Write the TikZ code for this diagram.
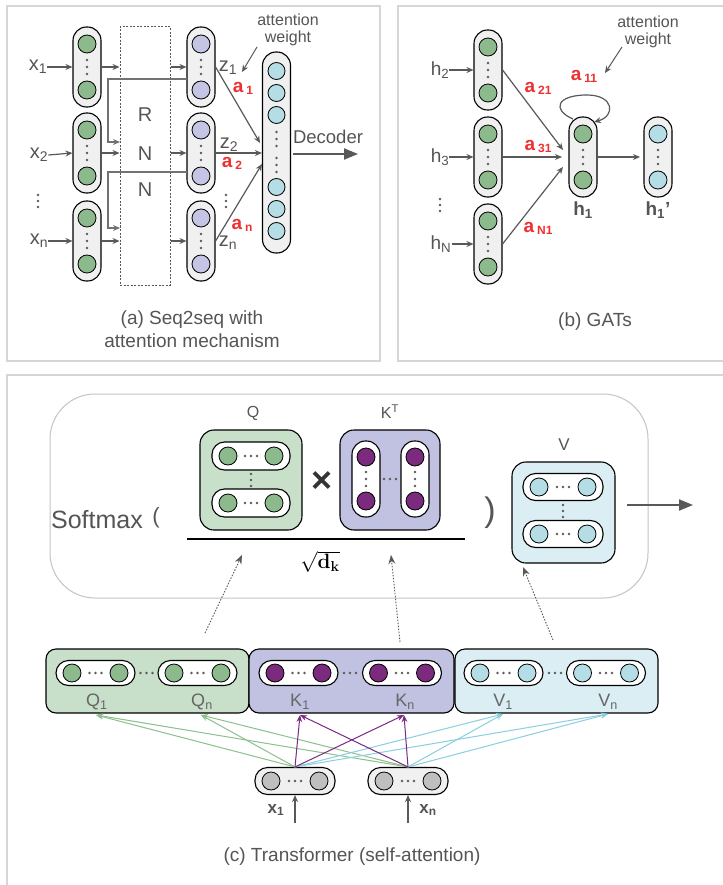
\documentclass[tikz,border=0pt]{standalone}
\usepackage[no-math]{fontspec}
\setmainfont{Liberation Sans}
\usetikzlibrary{arrows.meta}
\definecolor{bordgray}{HTML}{D6D6D6}
\definecolor{softgray}{HTML}{C4C4C4}
\definecolor{txtgray}{HTML}{555555}
\definecolor{lngray}{HTML}{595959}
\definecolor{dotgray}{HTML}{5A5A5A}
\definecolor{cgreen}{HTML}{8CBA8C}
\definecolor{clav}{HTML}{C4C4E4}
\definecolor{cblue}{HTML}{B4DDE6}
\definecolor{cpurple}{HTML}{7B2A7E}
\definecolor{cgray}{HTML}{BFBFBF}
\definecolor{pillgray}{HTML}{F0F0F0}
\definecolor{qfill}{HTML}{C8DFC9}
\definecolor{kfill}{HTML}{C1C1E1}
\definecolor{vfill}{HTML}{DBEEF4}
\definecolor{qline}{HTML}{8CC08C}
\definecolor{kline}{HTML}{7B2A83}
\definecolor{vline}{HTML}{8ACFDF}
\definecolor{ared}{HTML}{EE3030}
\newcommand\myfs[1]{\fontsize{#1}{#1}\selectfont}
\newcommand\sqdk{\ensuremath{\sqrt{\mathbf{d}_{\mathbf{k}}}}}
\newcommand\vcol[6]{% name,x,y,circle fill,pill fill,height
  \node[vpill, fill=#5, minimum height=#6] (#1) at (#2,#3) {};
  \node[cnode, fill=#4] (#1-t) at (#2,#3-#6/2+17) {};
  \node[cnode, fill=#4] (#1-b) at (#2,#3+#6/2-17) {};
  \foreach \dd in {-7,0,7} \fill[dotc] (#2,#3+\dd) circle (1.3);
}
\newcommand\hcol[7]{% name,x,y,circle fill,pill fill,width,height
  \node[hpill, fill=#5, minimum width=#6, minimum height=#7] (#1) at (#2,#3) {};
  \node[cnode, fill=#4] (#1-l) at (#2-#6/2+16,#3) {};
  \node[cnode, fill=#4] (#1-r) at (#2+#6/2-16,#3) {};
  \foreach \dd in {-6,0,6} \fill[dotc] (#2+\dd,#3) circle (1.3);
}
\newcommand\redlab[1]{\textcolor{ared}{\bfseries\myfs{19}a\kern3pt\raisebox{-2pt}{\myfs{12}#1}}}
\begin{document}
\begin{tikzpicture}[x=1pt,y=-1pt,
  panel/.style={draw=bordgray, line width=1.5pt},
  vpill/.style={draw=black, line width=1.1pt, rounded corners=13.5pt, minimum width=28pt, inner sep=0pt},
  hpill/.style={draw=black, line width=1.1pt, rounded corners=12.5pt, inner sep=0pt},
  cnode/.style={circle, draw=black, line width=0.8pt, minimum size=18pt, inner sep=0pt},
  dotc/.style={fill=dotgray},
  lbl/.style={text=txtgray, inner sep=0pt},
  arr/.style={draw=lngray, line width=1.2pt, -{Stealth[length=7pt,width=6pt]}},
  fbarr/.style={draw=lngray!85, line width=1.2pt, -{Stealth[length=7pt,width=6pt]}},
  bigarr/.style={draw=lngray, line width=2pt, -{Triangle[length=14pt,width=11pt]}},
  dotarr/.style={draw=lngray, line width=0.9pt, dash pattern=on 1.5pt off 1.5pt, -{Stealth[length=9pt,width=7pt]}},
  mbox/.style={draw=black, line width=1.1pt, rounded corners=14pt, inner sep=0pt},
  rowbox/.style={draw=black, line width=1.1pt, rounded corners=10pt, inner sep=0pt, minimum height=64pt},
  cl/.style={line width=1pt, -{Stealth[length=7pt,width=5.5pt]}},
  captxt/.style={text=txtgray, inner sep=0pt, align=center, font=\myfs{19}}]
\useasboundingbox (0,0) rectangle (722,885);
\fill[white] (0,0) rectangle (722,885);
% panel borders
\draw[panel] (7,6) rectangle (380,361);
\draw[panel] (398,6) rectangle (740,361);
\draw[panel] (7,375) rectangle (740,900);

% ===================== panel (a) =====================
\node[draw=lngray, line width=1pt, dash pattern=on 2pt off 1.5pt, minimum width=50pt, minimum height=258pt, inner sep=0pt] (rnn) at (145,156) {};
\node[lbl, font=\myfs{20}] at (145,115) {R};
\node[lbl, font=\myfs{20}] at (145,154) {N};
\node[lbl, font=\myfs{20}] at (145,190) {N};
\vcol{xa1}{87}{67}{cgreen}{pillgray}{80}
\vcol{xa2}{87}{153}{cgreen}{pillgray}{80}
\vcol{xa3}{87}{241}{cgreen}{pillgray}{80}
\vcol{za1}{201}{67}{clav}{pillgray}{80}
\vcol{za2}{201}{153}{clav}{pillgray}{80}
\vcol{za3}{201}{241}{clav}{pillgray}{80}
\node[lbl, font=\myfs{20}] (lx1) at (38,67) {x\textsubscript{1}};
\node[lbl, font=\myfs{20}] (lx2) at (39,155) {x\textsubscript{2}};
\node[lbl, font=\myfs{20}] (lxn) at (39,241) {x\textsubscript{n}};
\foreach \dd in {195,201,207} \fill[dotc] (38,\dd) circle (1.3);
\draw[arr] (lx1.east) -- (xa1.west);
\draw[arr] (lx2.east) -- (xa2.west);
\draw[arr] (lxn.east) -- (xa3.west);
\draw[arr] (xa1.east) -- (xa1.east -| rnn.west);
\draw[arr] (xa2.east) -- (xa2.east -| rnn.west);
\draw[arr] (xa3.east) -- (xa3.east -| rnn.west);
\draw[arr] (za1.west -| rnn.east) -- (za1.west);
\draw[arr] (za2.west -| rnn.east) -- (za2.west);
\draw[arr] (za3.west -| rnn.east) -- (za3.west);
% recurrent feedback
\coordinate (fb1s) at (187,79);
\coordinate (fb1e) at (120,142);
\coordinate (fb2s) at (187,172);
\coordinate (fb2e) at (120,228);
\draw[fbarr] (fb1s) -- (108,79) -- (108,142) -- (fb1e);
\draw[fbarr] (fb2s) -- (108,172) -- (108,228) -- (fb2e);
% decoder
\node[vpill, fill=pillgray, minimum height=201pt] (dec) at (276.5,152.5) {};
\foreach \cy in {71,93,115,187,209,231} \node[cnode, fill=cblue, minimum size=17pt] at (276.5,\cy) {};
\foreach \dd in {132,139,146,158,165,172} \fill[dotc] (276.5,\dd) circle (1.3);
\node[lbl, font=\myfs{20}] (lz1) at (228,68) {z\textsubscript{1}};
\node[lbl, font=\myfs{20}] (lz2) at (229,145) {z\textsubscript{2}};
\node[lbl, font=\myfs{20}] (lzn) at (228,243) {z\textsubscript{n}};
\foreach \dd in {195,201,207} \fill[dotc] (226,\dd) circle (1.3);
\coordinate (d1) at (260,143);
\coordinate (d3) at (262,164);
\draw[arr] (za1.east) -- (d1);
\draw[arr] (za2.east) -- (za2.east -| dec.west);
\draw[arr] (za3.east) -- (d3);
\node[inner sep=0pt] at (243,88) {\redlab{1}};
\node[inner sep=0pt] at (232,163) {\redlab{2}};
\node[inner sep=0pt] at (242,225) {\redlab{n}};
\node[lbl, font=\myfs{18.5}] (decl) at (328,137) {Decoder};
\coordinate (dca) at (293,154);
\coordinate (dcb) at (358,154);
\draw[bigarr] (dca) -- (dcb);
\node[lbl, font=\myfs{16}, align=center] (attA) at (288,30) {attention\\[1pt]weight};
\coordinate (awa) at (242,72);
\draw[arr, line width=1pt] (257,47) -- (awa);
\node[captxt] at (192,329) {(a) Seq2seq with\\[4pt]attention mechanism};

% ===================== panel (b) =====================
\vcol{hb2}{488}{70}{cgreen}{pillgray}{80}
\vcol{hb3}{488}{157}{cgreen}{pillgray}{80}
\vcol{hbN}{488}{244}{cgreen}{pillgray}{80}
\vcol{hb1}{583}{157}{cgreen}{pillgray}{80}
\vcol{hbo}{658}{157}{cblue}{pillgray}{80}
\node[lbl, font=\myfs{19}] (lh2) at (440,70) {h\textsubscript{2}};
\node[lbl, font=\myfs{19}] (lh3) at (440,157) {h\textsubscript{3}};
\node[lbl, font=\myfs{19}] (lhN) at (441,244) {h\textsubscript{N}};
\foreach \dd in {199,205,211} \fill[dotc] (440,\dd) circle (1.3);
\draw[arr] (lh2.east) -- (hb2.west);
\draw[arr] (lh3.east) -- (hb3.west);
\draw[arr] (lhN.east) -- (hbN.west);
\coordinate (g1) at (563,150);
\coordinate (g2) at (562,157);
\coordinate (g3) at (563,167);
\draw[arr] (hb2.east) -- (g1);
\draw[arr] (hb3.east) -- (g2);
\draw[arr] (hbN.east) -- (g3);
\coordinate (go) at (640,157);
\draw[arr] (hb1.east) -- (go);
\draw[arr] (573,119) .. controls (552,110) and (556,95) .. (587,95) .. controls (614,95) and (616,116) .. (594,122);
\node[lbl, font=\myfs{19}\bfseries] at (583,210) {h\textsubscript{1}};
\node[lbl, font=\myfs{19}\bfseries] at (658,210) {h\textsubscript{1}'};
\node[inner sep=0pt] at (538,88) {\redlab{21}};
\node[inner sep=0pt] at (538,146) {\redlab{31}};
\node[inner sep=0pt] at (538,228) {\redlab{N1}};
\node[inner sep=0pt] at (584,76) {\redlab{11}};
\node[lbl, font=\myfs{16}, align=center] (attB) at (648,32) {attention\\[1pt]weight};
\coordinate (awb) at (605,73);
\draw[arr, line width=1pt] (622,47) -- (awb);
\node[captxt] at (595,322) {(b) GATs};

% ===================== panel (c) =====================
\node[draw=softgray, line width=1pt, rounded corners=45pt, minimum width=598pt, minimum height=204pt, inner sep=0pt] (big) at (349,496) {};
\node[lbl, font=\myfs{25}] at (97,520) {Softmax};
\node[lbl, font=\myfs{22}] at (156,518) {(};
\node[lbl, font=\myfs{34}] at (490,513) {)};
\node[lbl, font=\myfs{16}] at (253,413) {Q};
\node[lbl, font=\myfs{16}] at (390,412) {K\textsuperscript{T}};
\node[lbl, font=\myfs{17}] at (564,445) {V};
% Q
\node[mbox, fill=qfill, minimum width=102pt, minimum height=100pt] (qb) at (251,480) {};
\hcol{qp1}{251}{456}{cgreen}{white}{78}{28}
\hcol{qp2}{251}{503}{cgreen}{white}{78}{28}
\foreach \dd in {474,480,486} \fill[dotc] (251,\dd) circle (1.3);
\node[lbl, text=black!80, font=\myfs{36}\bfseries] at (322,482) {×};
% K^T
\node[mbox, fill=kfill, minimum width=100pt, minimum height=100pt] (kb) at (390,480) {};
\node[vpill, fill=white, minimum height=76pt] (kp1) at (366,479) {};
\node[cnode, fill=cpurple] at (366,457) {};
\node[cnode, fill=cpurple] at (366,501) {};
\foreach \dd in {472,479,486} \fill[dotc] (366,\dd) circle (1.3);
\node[vpill, fill=white, minimum height=76pt] (kp2) at (415,479) {};
\node[cnode, fill=cpurple] at (415,457) {};
\node[cnode, fill=cpurple] at (415,501) {};
\foreach \dd in {472,479,486} \fill[dotc] (415,\dd) circle (1.3);
\foreach \dd in {384,390,396} \fill[dotc] (\dd,479) circle (1.3);
% fraction
\coordinate (fr1) at (187,539);
\coordinate (fr2) at (465,539);
\draw[black, line width=1.1pt] (fr1) -- (fr2);
\node[inner sep=0pt, font=\myfs{22}] (sq) at (320,562) {\sqdk};
% V
\node[mbox, fill=vfill, minimum width=103pt, minimum height=101pt] (vb) at (563.5,512.5) {};
\hcol{vp1}{563}{487}{cblue}{white}{80}{27}
\hcol{vp2}{563}{534}{cblue}{white}{80}{27}
\foreach \dd in {505,511,517} \fill[dotc] (563,\dd) circle (1.3);
\coordinate (oa) at (627,505);
\coordinate (ob) at (693,505);
\draw[bigarr] (oa) -- (ob);
% bottom row
\node[rowbox, fill=qfill, minimum width=203pt] (rq) at (147.5,681) {};
\node[rowbox, fill=kfill, minimum width=205pt] (rk) at (351.5,681) {};
\node[rowbox, fill=vfill, minimum width=203pt] (rv) at (556.5,681) {};
\hcol{bq1}{95.5}{673}{cgreen}{white}{79}{25}
\hcol{bqn}{197.5}{673}{cgreen}{white}{79}{25}
\hcol{bk1}{298.5}{673}{cpurple}{white}{79}{25}
\hcol{bkn}{402}{673}{cpurple}{white}{79}{25}
\hcol{bv1}{503.5}{673}{cblue}{white}{79}{25}
\hcol{bvn}{606}{673}{cblue}{white}{79}{25}
\foreach \dd in {140.5,146.5,152.5} \fill[dotc] (\dd,673) circle (1.3);
\foreach \dd in {344,350,356} \fill[dotc] (\dd,673) circle (1.3);
\foreach \dd in {549,555,561} \fill[dotc] (\dd,673) circle (1.3);
\node[lbl, text=black!60, font=\myfs{18}] at (97,702) {Q\textsubscript{1}};
\node[lbl, text=black!60, font=\myfs{18}] at (202,702) {Q\textsubscript{n}};
\node[lbl, text=black!60, font=\myfs{18}] at (300,702) {K\textsubscript{1}};
\node[lbl, text=black!60, font=\myfs{18}] at (405,702) {K\textsubscript{n}};
\node[lbl, text=black!60, font=\myfs{18}] at (503,702) {V\textsubscript{1}};
\node[lbl, text=black!60, font=\myfs{18}] at (608,702) {V\textsubscript{n}};
\coordinate (tq1) at (96,715);
\coordinate (tqn) at (201,715);
\coordinate (tk1) at (300,715);
\coordinate (tkn) at (404,715);
\coordinate (tv1) at (503,714);
\coordinate (tvn) at (608,714);
% dotted arrows
\coordinate (da1) at (205,633);
\coordinate (db1) at (242,555);
\coordinate (da2) at (400,642);
\coordinate (db2) at (391,555);
\coordinate (da3) at (553,640);
\coordinate (db3) at (523,567);
\draw[dotarr] (da1) -- (db1);
\draw[dotarr] (da2) -- (db2);
\draw[dotarr] (da3) -- (db3);
% inputs
\hcol{xin1}{295}{781}{cgray}{pillgray}{80}{27}
\hcol{xinn}{408}{781}{cgray}{pillgray}{80}{27}
\foreach \s in {xin1,xinn} {
  \foreach \t in {tq1,tqn} \draw[cl, qline] (\s.north) -- (\t);
}
\foreach \s in {xin1,xinn} {
  \foreach \t in {tv1,tvn} \draw[cl, vline] (\s.north) -- (\t);
}
\foreach \s in {xin1,xinn} {
  \foreach \t in {tk1,tkn} \draw[cl, kline] (\s.north) -- (\t);
}
\coordinate (ia1) at (295,823);
\coordinate (ian) at (408,823);
\draw[arr] (ia1) -- (xin1.south);
\draw[arr] (ian) -- (xinn.south);
\node[lbl, font=\myfs{17}\bfseries] at (276,810) {x\textsubscript{1}};
\node[lbl, font=\myfs{17}\bfseries] at (428,810) {x\textsubscript{n}};
\node[captxt] at (352,857) {(c) Transformer (self-attention)};
\end{tikzpicture}
\end{document}
